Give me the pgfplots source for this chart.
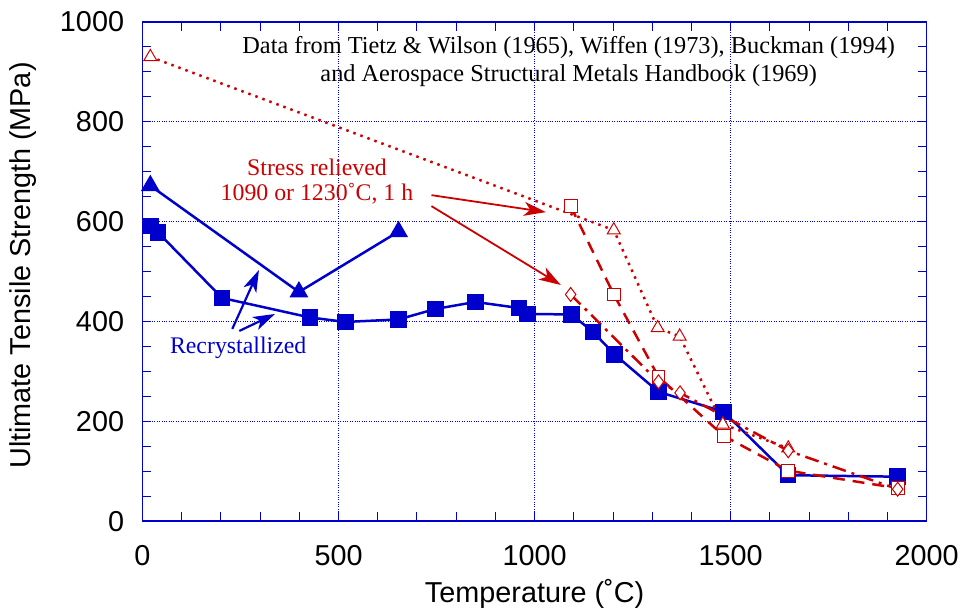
\documentclass[border=0pt]{standalone}
\usepackage{fontspec}
\setmainfont{Liberation Serif}
\setsansfont{Liberation Sans}
\usepackage{pgfplots}
\pgfplotsset{compat=1.18}
\usetikzlibrary{arrows.meta}
\definecolor{cblue}{RGB}{0,0,204}
\definecolor{cred}{RGB}{204,0,0}
\begin{document}
\begin{tikzpicture}
\begin{axis}[
  name=ax, scale only axis, width=787bp, height=501bp,
  xmin=0, xmax=2000, ymin=0, ymax=1000,
  xtick={0,500,...,2000}, ytick={0,200,...,1000},
  minor x tick num=4, minor y tick num=3,
  tick align=inside, major tick length=9bp, minor tick length=9bp,
  every tick/.style={cblue, line width=1bp},
  axis line style={cblue, line width=1.3bp},
  grid=major, major grid style={cblue, dotted, line width=0.8bp},
  ticklabel style={font=\fontsize{29}{32}\sffamily, text=black},
  yticklabel style={xshift=-15bp},
  xticklabel style={yshift=-21bp},
  /pgf/number format/assume math mode=true,
  /pgf/number format/1000 sep={},
  label style={font=\fontsize{29}{32}\sffamily, text=black},
  xlabel={Temperature (˚C)},
  ylabel={Ultimate Tensile Strength (MPa)},
  xlabel style={at={(axis description cs:0.5,-0.146)}, anchor=center},
  ylabel style={at={(axis description cs:-0.1525,0.512)}, anchor=center},
]
% recrystallized, squares
\addplot[cblue, line width=2.5bp, mark=square*, mark size=7bp] coordinates {
  (20,591) (40,578) (203,447) (427,408) (518,399) (653,404) (747,425)
  (849,439) (960,427) (982,415) (1094,414) (1149,379) (1204,334)
  (1316,259) (1482,219) (1647,92) (1926,89)};
% recrystallized, triangles
\addplot[cblue, line width=2.5bp, mark=triangle*, mark size=8.5bp] coordinates {
  (20,672) (399,459) (653,580)};
% stress relieved, triangles (dotted)
\addplot[cred, line width=2.5bp, dash pattern=on 2.5bp off 5bp,
  mark=triangle*, mark size=7.5bp, mark options={solid, fill=white, line width=1bp}] coordinates {
  (20,930) (1202,583) (1314,387) (1370,370) (1480,194) (1647,146)};
% stress relieved, squares (dashed)
\addplot[cred, line width=2.5bp, dash pattern=on 12bp off 8bp,
  mark=square*, mark size=6.5bp, mark options={solid, fill=white, line width=1bp}] coordinates {
  (1092,631) (1202,454) (1316,289) (1482,171) (1647,101) (1926,66)};
% stress relieved, diamonds (dash-dot)
\addplot[cred, line width=2.5bp, dash pattern=on 14bp off 6bp on 3bp off 6bp,
  mark=diamond*, mark size=7bp, mark options={solid, fill=white, line width=1bp}] coordinates {
  (1092,454) (1316,279) (1371,257) (1647,141) (1926,64)};

\node[font=\fontsize{24.5}{28}\selectfont, align=center] at (axis cs:1087,920)
  {Data from Tietz \& Wilson (1965), Wiffen (1973), Buckman (1994)\\and Aerospace Structural Metals Handbook (1969)};
\node[font=\fontsize{24}{25}\selectfont, align=center, text=cred] at (axis cs:445,680)
  {Stress relieved\\1090 or 1230˚C, 1 h};
\node[font=\fontsize{24}{25}\selectfont, text=cblue] at (axis cs:244,347) {Recrystallized};

\draw[cred, line width=1.8bp, -{Stealth[length=22bp,width=14bp,inset=6bp]}]
  (axis cs:737,653) -- (axis cs:1029,619);
\draw[cred, line width=1.8bp, -{Stealth[length=22bp,width=14bp,inset=6bp]}]
  (axis cs:737,631) -- (axis cs:1067,473);
\draw[cblue, line width=2.2bp, -{Stealth[length=22bp,width=14bp,inset=6bp]}]
  (axis cs:229,385) -- (axis cs:297,503);
\draw[cblue, line width=2.2bp, -{Stealth[length=22bp,width=14bp,inset=6bp]}]
  (axis cs:247,381) -- (axis cs:338,415);
\end{axis}
\path ([shift={(-143bp,-94bp)}]ax.south west) rectangle ([shift={(32bp,22bp)}]ax.north east);
\end{tikzpicture}
\end{document}
